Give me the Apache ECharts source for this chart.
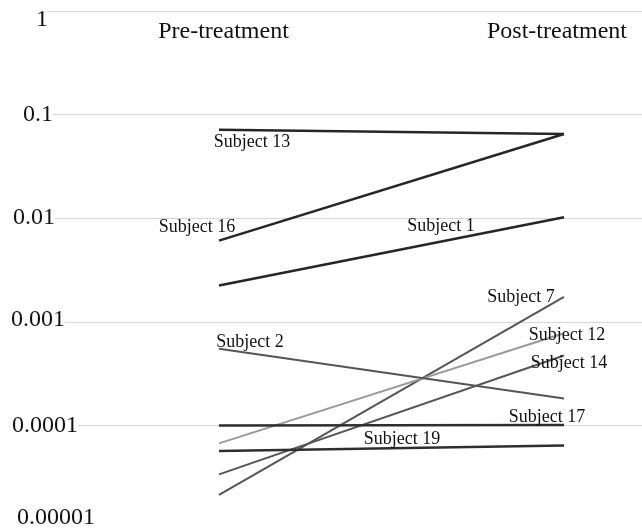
<!DOCTYPE html>
<html>
<head>
<meta charset="utf-8">
<script src="https://cdn.jsdelivr.net/npm/echarts@6/dist/echarts.min.js"></script>
<style>
html,body{margin:0;padding:0;background:#fff;}
#chart{width:642px;height:529px;}
</style>
</head>
<body>
<div id="chart"></div>
<script>
// ---- data ----
const categories = ['Pre-treatment', 'Post-treatment'];
const tickLabels = ['0.00001', '0.0001', '0.001', '0.01', '0.1', '1'];
const subjectNames = ['Subject 13', 'Subject 16', 'Subject 1', 'Subject 7', 'Subject 12',
                      'Subject 14', 'Subject 2', 'Subject 17', 'Subject 19'];
const subject13 = [0.0713, 0.0650];
const subject16 = [0.00607, 0.0650];
const subject1  = [0.00224, 0.0102];
const subject7  = [0.0000213, 0.00174];
const subject12 = [0.0000671, 0.000774];
const subject14 = [0.0000337, 0.000473];
const subject2  = [0.000548, 0.000182];
const subject17 = [0.0001, 0.000101];
const subject19 = [0.0000565, 0.0000641];
const subjectValues = [subject13, subject16, subject1, subject7, subject12,
                       subject14, subject2, subject17, subject19];

// ---- styles ----
const lineColors = ['#262626', '#262626', '#262626', '#555555', '#9a9a9a',
                    '#555555', '#555555', '#2e2e2e', '#2e2e2e'];
const lineWidths = [2.5, 2.5, 2.5, 2, 2, 2, 2, 2.5, 2.5];
// which point carries the label (0 = pre, 1 = post) and its pixel offset
const labelAnchor = [0, 0, 1, 1, 1, 1, 0, 1, 1];
const labelOffset = [[33, 12], [-22, -13], [-123, 9], [-43, 0], [3, 2],
                     [5, 8], [31, -7], [-17, -8], [-162, -6]];
const tickRich = {
  t0: {padding: [0, 0, 23, 17]},
  t1: {padding: [0, 0, 0, 12]},
  t2: {padding: [0, 0, 4, 11]},
  t3: {padding: [0, 0, 0, 13]},
  t4: {padding: [0, 0, 0, 23]},
  t5: {padding: [18, 0, 0, 36]}
};
Object.keys(tickRich).forEach(k => {
  Object.assign(tickRich[k], {backgroundColor: '#fff', fontSize: 24,
    fontFamily: 'Liberation Serif', color: '#111'});
});
const font = 'Liberation Serif';

const series = subjectNames.map((name, i) => ({
  name: name,
  type: 'line',
  xAxisIndex: 1,
  yAxisIndex: 1,
  symbol: 'circle',
  symbolSize: 0.1,
  itemStyle: {color: 'rgba(0,0,0,0)'},
  lineStyle: {color: lineColors[i], width: lineWidths[i]},
  z: 3,
  animation: false,
  data: subjectValues[i].map((v, j) => ({
    value: v,
    label: j === labelAnchor[i] ? {
      show: true,
      formatter: name,
      position: 'inside',
      offset: labelOffset[i],
      align: 'center',
      verticalAlign: 'middle',
      fontFamily: font,
      fontSize: 18,
      color: '#111'
    } : {show: false}
  }))
}));

const chart = echarts.init(document.getElementById('chart'), null, {renderer: 'canvas'});
chart.setOption({
  backgroundColor: '#fff',
  animation: false,
  grid: [
    {left: 0, right: 0, top: 11, bottom: 0, containLabel: false, outerBoundsMode: 'none'},
    {left: 219, right: 78, top: 11, bottom: 0, containLabel: false, outerBoundsMode: 'none'}
  ],
  xAxis: [
    {gridIndex: 0, type: 'value', min: 0, max: 1, show: false},
    {
      gridIndex: 1, type: 'category', data: categories, boundaryGap: false,
      position: 'top',
      axisLine: {show: false}, axisTick: {show: false}, splitLine: {show: false},
      axisLabel: {
        inside: true, margin: 21, verticalAlign: 'middle',
        fontFamily: font, fontSize: 24, color: '#111',
        formatter: (v, i) => i === 0 ? '{a|' + v + '}' : '{b|' + v + '}',
        rich: {
          a: {padding: [0, 0, 0, 9], fontFamily: font, fontSize: 24, color: '#111'},
          b: {padding: [0, 14, 0, 0], fontFamily: font, fontSize: 24, color: '#111'}
        }
      }
    }
  ],
  yAxis: [
    {
      gridIndex: 0, type: 'log', logBase: 10, min: 0.00001, max: 1, interval: 1,
      axisLine: {show: false}, axisTick: {show: false},
      splitLine: {show: true, lineStyle: {color: '#d6d6d6', width: 1}},
      axisLabel: {
        inside: true, margin: 0, align: 'left', verticalAlign: 'middle',
        fontFamily: font, fontSize: 24, color: '#111',
        formatter: (v, i) => '{t' + i + '|' + tickLabels[i] + '}',
        rich: tickRich
      },
      z: 1
    },
    {gridIndex: 1, type: 'log', logBase: 10, min: 0.00001, max: 1, show: false}
  ],
  series: series
});
</script>
</body>
</html>
